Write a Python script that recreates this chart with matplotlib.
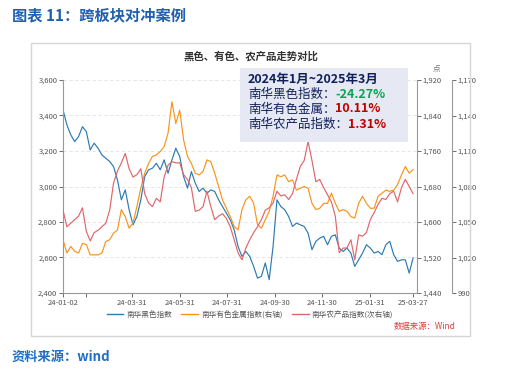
import pandas as pd
import matplotlib
matplotlib.use('Agg')
import matplotlib.pyplot as plt
from matplotlib.patches import Rectangle
from matplotlib.lines import Line2D
from matplotlib.ticker import StrMethodFormatter, FixedLocator
import matplotlib.dates as mdates

plt.rcParams['font.family'] = ['Noto Sans CJK SC', 'DejaVu Sans']

W, H = 506, 375

### Data (5-day sampling):
dates = pd.date_range('2024-01-02', '2025-03-27', freq='5D')

black = [3432, 3347, 3291, 3253, 3281, 3337, 3309, 3206, 3244, 3216,
         3178, 3159, 3141, 3112, 3037, 2925, 2981, 2869, 2784, 2831,
         2925, 3056, 3094, 3103, 3131, 3094, 3150, 3075, 3150, 3216,
         3169, 3056, 2991, 3084, 3019, 2972, 2991, 2962, 2981, 2972,
         2925, 2887, 2850, 2812, 2756, 2662, 2606, 2634, 2606, 2550,
         2484, 2494, 2569, 2475, 2662, 2925, 2887, 2869, 2831, 2775,
         2794, 2784, 2775, 2737, 2644, 2691, 2709, 2719, 2672, 2719,
         2728, 2653, 2634, 2653, 2625, 2550, 2587, 2625, 2672, 2653,
         2625, 2634, 2616, 2672, 2691, 2616, 2578, 2587, 2587, 2512, 2598]

metal = [1560, 1530, 1545, 1534, 1530, 1552, 1549, 1526, 1526, 1526,
         1530, 1556, 1560, 1575, 1582, 1628, 1612, 1586, 1598, 1635,
         1676, 1710, 1732, 1748, 1751, 1759, 1770, 1800, 1871, 1822,
         1852, 1785, 1748, 1732, 1710, 1706, 1714, 1740, 1736, 1710,
         1680, 1650, 1631, 1612, 1590, 1582, 1628, 1650, 1658, 1642,
         1594, 1586, 1605, 1624, 1658, 1706, 1702, 1706, 1691, 1695,
         1672, 1676, 1680, 1676, 1642, 1628, 1631, 1642, 1642, 1665,
         1642, 1624, 1628, 1624, 1612, 1609, 1642, 1658, 1642, 1631,
         1631, 1658, 1665, 1672, 1669, 1672, 1684, 1706, 1725, 1710, 1718]

agri = [1060, 1046, 1049, 1052, 1055, 1062, 1042, 1034, 1041, 1043,
        1046, 1049, 1060, 1083, 1093, 1100, 1108, 1095, 1088, 1090,
        1095, 1074, 1066, 1063, 1070, 1067, 1088, 1098, 1101, 1100,
        1100, 1090, 1086, 1079, 1059, 1060, 1063, 1076, 1063, 1052,
        1055, 1057, 1053, 1046, 1035, 1024, 1018, 1028, 1035, 1041,
        1046, 1052, 1060, 1062, 1066, 1076, 1072, 1073, 1069, 1074,
        1086, 1097, 1102, 1118, 1102, 1084, 1086, 1079, 1073, 1067,
        1055, 1024, 1028, 1028, 1035, 1018, 1039, 1038, 1041, 1052,
        1058, 1065, 1070, 1069, 1074, 1076, 1067, 1079, 1086, 1080, 1074]

tick_dates = pd.to_datetime(['2024-01-02', '2024-01-31', '2024-03-31', '2024-05-31', '2024-07-31',
                             '2024-09-30', '2024-11-30', '2025-01-31', '2025-03-27'])
tick_labels = ['24-01-02', '', '24-03-31', '24-05-31', '24-07-31',
               '24-09-30', '24-11-30', '25-01-31', '25-03-27']

series_names = ['南华黑色指数', '南华有色金属指数(右轴)', '南华农产品指数(次右轴)']
colors = ['#2b7bb0', '#f7941d', '#e0666b']

box_labels = ['南华黑色指数：', '南华有色金属：', '南华农产品指数：']
box_values = ['-24.27%', '10.11%', '1.31%']
box_colors = ['#00a651', '#c00000', '#c00000']

### Figure
fig = plt.figure(figsize=(W / 100, H / 100), dpi=100)

def fx(px):
    return px / W

def fy(py):
    return 1 - py / H

# outer panel border
fig.patches.append(Rectangle((fx(31), fy(336)), fx(470) - fx(31), fy(43) - fy(336),
                             transform=fig.transFigure, fill=False, edgecolor='#d6d6d6', lw=1))

fig.text(fx(12), fy(15), '图表 11：跨板块对冲案例', fontsize=11, fontweight='bold',
         color='#1f5fae', va='center', ha='left')
fig.text(fx(12), fy(357), '资料来源：wind', fontsize=9.5, fontweight='bold',
         color='#1f6fc8', va='center', ha='left')
fig.text(fx(251), fy(56), '黑色、有色、农产品走势对比', fontsize=7.5, fontweight='bold',
         color='#333333', va='center', ha='center')

ax = fig.add_axes([fx(63), fy(293), fx(417) - fx(63), fy(80) - fy(293)])
ax1 = ax.twinx()
ax2 = ax.twinx()
ax2.spines['right'].set_position(('outward', 25))

ax.plot(dates, black, color=colors[0], lw=0.85)
ax1.plot(dates, metal, color=colors[1], lw=0.85)
ax2.plot(dates, agri, color=colors[2], lw=0.85)

ax.set_ylim(2400, 3600)
ax1.set_ylim(1440, 1920)
ax2.set_ylim(990, 1170)
ax.set_xlim(pd.Timestamp('2024-01-02'), pd.Timestamp('2025-04-01'))

ax.set_yticks(range(2400, 3601, 200))
ax1.set_yticks(range(1440, 1921, 80))
ax2.set_yticks(range(990, 1171, 30))
ax.xaxis.set_major_locator(FixedLocator(mdates.date2num(tick_dates)))
ax.set_xticklabels(tick_labels)

fmt = StrMethodFormatter('{x:,.0f}')
for a in (ax, ax1, ax2):
    a.yaxis.set_major_formatter(fmt)
    a.tick_params(labelsize=5.5, colors='#555555', length=3, width=0.6, pad=1)
    for s in a.spines.values():
        s.set_visible(False)
for s in (ax.spines['left'], ax.spines['bottom'], ax1.spines['right'], ax2.spines['right']):
    s.set_visible(True)
    s.set_color('#999999')
    s.set_linewidth(0.8)

ax.yaxis.grid(True, ls=(0, (4, 3)), color='#e2e2e2', lw=0.6)
ax.set_axisbelow(True)

fig.text(fx(437), fy(69), '点', fontsize=5.5, color='#777777', ha='center', va='center')

# summary box
fig.patches.append(Rectangle((fx(240), fy(142)), fx(408) - fx(240), fy(68) - fy(142),
                             transform=fig.transFigure, facecolor='#e6e9f3', edgecolor='none',
                             zorder=5))
fig.text(fx(248), fy(79), '2024年1月~2025年3月', fontsize=9, fontweight='bold',
         color='#10205a', va='center', ha='left', zorder=6)
for k in range(3):
    t = fig.text(fx(248), fy(94 + 15 * k), box_labels[k], fontsize=9, color='#10205a',
                 va='center', ha='left', zorder=6)
    fig.add_artist(matplotlib.text.Annotation(box_values[k], xy=(1, 0.5), xycoords=t,
                                              fontsize=9, fontweight='bold', color=box_colors[k],
                                              va='center', ha='left', zorder=6))

handles = [Line2D([], [], color=c, lw=1) for c in colors]
fig.legend(handles, series_names, loc='center', bbox_to_anchor=(fx(250), fy(315)), ncol=3,
           frameon=False, fontsize=5.5, handlelength=2.2, columnspacing=1.2, handletextpad=0.4,
           labelcolor='#555555')

fig.text(fx(456), fy(326), '数据来源：Wind', fontsize=6, color='#e03c3c', ha='right', va='center')

fig.savefig('out.png', dpi=100)
